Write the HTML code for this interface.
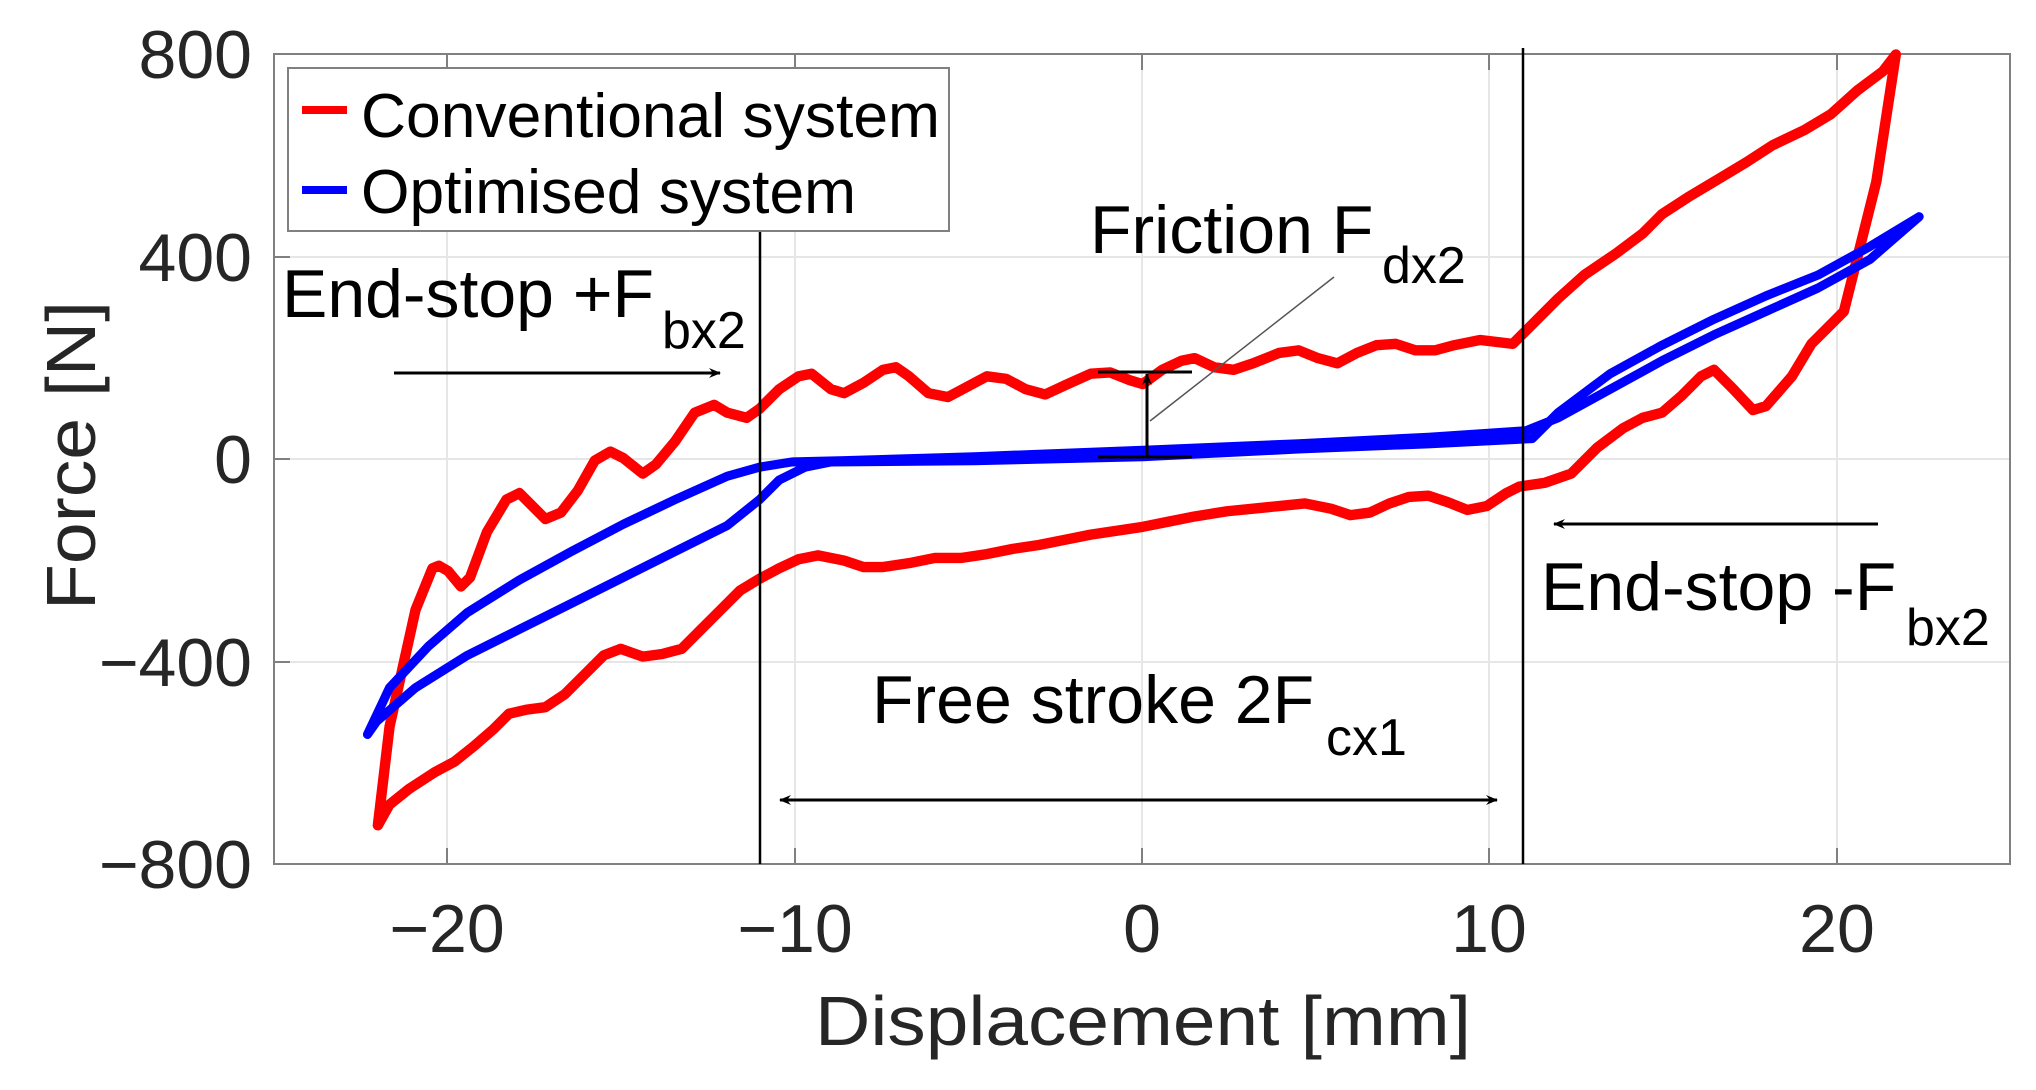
<!DOCTYPE html>
<html><head><meta charset="utf-8"><style>
html,body{margin:0;padding:0;background:#fff;}
svg{display:block;font-family:"Liberation Sans",Arial,sans-serif;}
</style></head><body>
<svg width="2036" height="1090" viewBox="0 0 2036 1090" xmlns="http://www.w3.org/2000/svg">
<defs>
<marker id="ah" markerWidth="12" markerHeight="10" refX="11" refY="5" orient="auto" markerUnits="userSpaceOnUse">
<path d="M0,0 L12,5 L0,10 L4,5 Z" fill="#000"/></marker>
<marker id="ahs" markerWidth="12" markerHeight="10" refX="1" refY="5" orient="auto" markerUnits="userSpaceOnUse">
<path d="M12,0 L0,5 L12,10 L8,5 Z" fill="#000"/></marker>
</defs>
<g stroke="#e6e6e6" stroke-width="2">
<line x1="447" y1="54" x2="447" y2="864"/><line x1="795" y1="54" x2="795" y2="864"/>
<line x1="1142" y1="54" x2="1142" y2="864"/><line x1="1489" y1="54" x2="1489" y2="864"/>
<line x1="1837" y1="54" x2="1837" y2="864"/>
<line x1="274" y1="257" x2="2010" y2="257"/><line x1="274" y1="459" x2="2010" y2="459"/>
<line x1="274" y1="662" x2="2010" y2="662"/>
</g>
<rect x="274" y="54" width="1736" height="810" fill="none" stroke="#808080" stroke-width="2"/>
<g stroke="#808080" stroke-width="2">
<line x1="447" y1="864" x2="447" y2="848"/><line x1="795" y1="864" x2="795" y2="848"/><line x1="1142" y1="864" x2="1142" y2="848"/><line x1="1489" y1="864" x2="1489" y2="848"/><line x1="1837" y1="864" x2="1837" y2="848"/>
<line x1="447" y1="54" x2="447" y2="70"/><line x1="795" y1="54" x2="795" y2="70"/><line x1="1142" y1="54" x2="1142" y2="70"/><line x1="1489" y1="54" x2="1489" y2="70"/><line x1="1837" y1="54" x2="1837" y2="70"/>
<line x1="274" y1="257" x2="290" y2="257"/><line x1="274" y1="459" x2="290" y2="459"/><line x1="274" y1="662" x2="290" y2="662"/>
</g>
<g font-size="68" fill="#262626" text-anchor="end">
<text x="252" y="78">800</text><text x="252" y="281">400</text><text x="252" y="483">0</text>
<text x="252" y="686">−400</text><text x="252" y="888">−800</text>
</g>
<g font-size="68" fill="#262626" text-anchor="middle">
<text x="447" y="952">−20</text><text x="795" y="952">−10</text><text x="1142" y="952">0</text>
<text x="1489" y="952">10</text><text x="1837" y="952">20</text>
</g>
<text x="815" y="1045" font-size="70" fill="#262626" textLength="656" lengthAdjust="spacingAndGlyphs">Displacement [mm]</text>
<text transform="translate(95,610) rotate(-90)" font-size="70" fill="#262626" textLength="309" lengthAdjust="spacingAndGlyphs">Force [N]</text>

<g transform="scale(1.2985,1.2976)" fill="none" stroke-linejoin="round" stroke-linecap="round">
<path stroke="#ff0000" stroke-width="8" d="M291,636 L300,560 L320,470 L333,438 L338,436 L345,440 L355,452 L362,445 L375,410 L390,385 L400,380 L410,390 L420,400 L432,395 L445,378 L458,355 L470,348 L480,353 L495,365 L505,358 L520,340 L535,318 L550,312 L560,318 L575,322 L585,315 L600,300 L615,290 L625,288 L640,300 L650,303 L665,295 L680,285 L690,283 L700,290 L715,303 L730,306 L745,298 L760,290 L775,292 L790,300 L805,304 L820,297 L840,288 L855,287 L870,293 L880,296 L895,285 L910,278 L920,276 L935,283 L950,285 L965,280 L985,272 L1000,270 L1015,276 L1030,280 L1045,272 L1060,266 L1075,265 L1090,270 L1105,270 L1120,266 L1140,262 L1165,265 L1180,250 L1200,230 L1220,212 L1245,195 L1265,180 L1280,165 L1300,152 L1320,140 L1345,125 L1365,112 L1390,100 L1410,88 L1430,70 L1450,55 L1460,42 L1445,140 L1430,200 L1420,240 L1410,250 L1395,265 L1380,290 L1360,313 L1350,316 L1335,300 L1320,285 L1310,290 L1295,305 L1280,318 L1265,322 L1250,330 L1230,345 L1210,365 L1190,372 L1170,375 L1160,380 L1145,390 L1130,393 L1115,387 L1100,382 L1085,383 L1070,388 L1055,395 L1040,397 L1025,392 L1005,388 L985,390 L965,392 L945,394 L920,398 L900,402 L880,406 L860,409 L840,412 L820,416 L800,420 L780,423 L760,427 L740,430 L720,430 L700,434 L680,437 L665,437 L650,432 L630,428 L615,431 L600,438 L585,446 L570,455 L555,470 L540,485 L525,500 L510,504 L495,506 L478,500 L465,505 L450,520 L435,535 L420,545 L405,547 L392,550 L380,562 L365,575 L350,587 L335,595 L315,608 L300,620 L291,636"/>
<path stroke="#0000ff" stroke-width="7" d="M283,566 L300,530 L330,498 L360,472 L400,447 L440,425 L480,404 L520,385 L560,367 L585,360 L610,356 L650,355 L750,352 L880,347 L1000,342 L1100,337 L1175,332 L1200,322 L1240,300 L1280,278 L1320,258 L1360,240 L1400,222 L1440,200 L1478,167 L1440,190 L1400,212 L1360,228 L1320,246 L1280,266 L1240,288 L1200,318 L1180,338 L1100,342 L1000,346 L880,352 L750,355 L640,356 L620,360 L600,370 L585,385 L560,405 L520,425 L480,445 L440,465 L400,485 L360,505 L320,530 L290,556 L283,566"/>
</g>

<line x1="760" y1="232" x2="760" y2="864" stroke="#000" stroke-width="2.5"/>
<line x1="1523" y1="48" x2="1523" y2="864" stroke="#000" stroke-width="2.5"/>

<g stroke="#000" stroke-width="3">
<line x1="1098" y1="372" x2="1192" y2="372"/>
<line x1="1098" y1="457" x2="1192" y2="457"/>
<line x1="1147" y1="457" x2="1147" y2="374" marker-end="url(#ah)"/>
</g>
<line x1="1334" y1="277" x2="1150" y2="421" stroke="#555" stroke-width="1.5"/>

<g stroke="#000" stroke-width="3" fill="none">
<line x1="394" y1="373" x2="720" y2="373" marker-end="url(#ah)"/>
<line x1="1878" y1="524" x2="1554" y2="524" marker-end="url(#ah)"/>
<line x1="780" y1="800" x2="1497" y2="800" marker-start="url(#ahs)" marker-end="url(#ah)"/>
</g>

<g fill="#000">
<text x="282" y="317" font-size="68" textLength="372" lengthAdjust="spacingAndGlyphs">End-stop +F</text>
<text x="662" y="348" font-size="52">bx2</text>
<text x="1090" y="253" font-size="68">Friction F</text>
<text x="1382" y="283" font-size="52">dx2</text>
<text x="1541" y="610" font-size="68">End-stop -F</text>
<text x="1906" y="645" font-size="52">bx2</text>
<text x="872" y="723" font-size="68">Free stroke 2F</text>
<text x="1326" y="755" font-size="52">cx1</text>
</g>

<rect x="288" y="68" width="661" height="163" fill="#fff" stroke="#808080" stroke-width="2"/>
<line x1="302" y1="110" x2="347" y2="110" stroke="#ff0000" stroke-width="8"/>
<line x1="302" y1="190" x2="347" y2="190" stroke="#0000ff" stroke-width="8"/>
<text x="361" y="137" font-size="62" textLength="579" lengthAdjust="spacingAndGlyphs">Conventional system</text>
<text x="361" y="213" font-size="62" textLength="495" lengthAdjust="spacingAndGlyphs">Optimised system</text>
</svg>
</body></html>
